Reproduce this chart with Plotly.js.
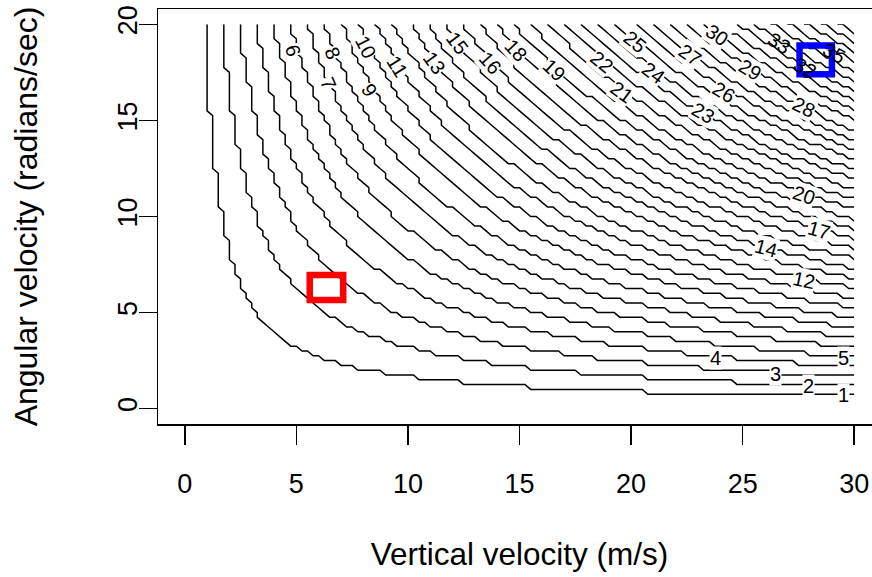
<!DOCTYPE html>
<html>
<head>
<meta charset="utf-8">
<script src="https://cdn.plot.ly/plotly-3.0.1.min.js"></script>
<style>
  html, body { margin: 0; padding: 0; background: #ffffff; overflow: hidden; }
  #chart { width: 900px; height: 577px; }
</style>
</head>
<body>
<div id="chart"></div>
<script>
// ---- data ----
// grid of the surface (vertical velocity v in m/s, angular velocity w in rad/s)
const velocityRange = [0, 30];
const angularRange = [0, 20];
const gridStep = 0.25;
// model drawn in the chart: number of half-turns of a tossed coin, 2*v*w/(g*pi)
const gravity = 9.8;
// contour levels drawn (1 ... 40)
const levelFirst = 1;
const levelLast = 40;
// tick labels
const xTickVals = [0, 5, 10, 15, 20, 25, 30];
const yTickVals = [0, 5, 10, 15, 20];
// highlighted regions
const redBoxV = [5.6, 7.1];
const redBoxW = [5.65, 6.95];
const blueBoxV = [27.55, 29.0];
const blueBoxW = [17.4, 18.9];
// contour labels that are printed (level values)
const contourLabels = [1, 2, 3, 4, 5, 6, 7, 8, 9, 10, 11, 12, 13, 14, 15, 16, 17, 18, 19, 20,
                       21, 22, 23, 24, 25, 26, 27, 28, 29, 30, 32, 33, 35];

// ---- label placement (where each label sits on its line, and its tilt) ----
const labelPlace = {
  1:  [29.5, 0.72, 0],   2:  [27.95, 1.2, 0],  3:  [26.45, 1.8, 0],   4:  [23.77, 2.66, 0],
  5:  [29.5, 2.66, 0],   6:  [4.85, 18.67, 73], 7:  [6.43, 16.94, 66], 8:  [6.62, 18.5, 67],
  9:  [8.28, 16.59, 60], 10: [8.12, 18.84, 63], 11: [9.55, 17.8, 58],  12: [27.73, 6.71, 12],
  13: [11.18, 17.98, 54], 14: [26.03, 8.36, 15], 15: [12.2, 19.02, 53], 16: [13.69, 17.98, 48],
  17: [28.4, 9.31, 16],  18: [14.83, 18.67, 47], 19: [16.56, 17.63, 43], 20: [27.73, 11.13, 19],
  21: [19.59, 16.5, 36], 22: [18.7, 18.06, 40], 23: [23.24, 15.38, 30], 24: [21.0, 17.46, 36],
  25: [20.19, 19.1, 39], 26: [24.15, 16.5, 31], 27: [22.65, 18.41, 35], 28: [27.73, 15.72, 26],
  29: [25.35, 17.63, 31], 30: [23.85, 19.45, 35], 32: [27.81, 17.72, 29], 33: [26.61, 19.02, 32],
  35: [29.08, 18.5, 29]
};

// ---- build the surface grid ----
const vGrid = [];
for (let i = 0; velocityRange[0] + i * gridStep <= velocityRange[1] + 1e-9; i++) vGrid.push(velocityRange[0] + i * gridStep);
const wGrid = [];
for (let j = 0; angularRange[0] + j * gridStep <= angularRange[1] + 1e-9; j++) wGrid.push(angularRange[0] + j * gridStep);
const zGrid = wGrid.map(w => vGrid.map(v => Math.floor(2 * v * w / (gravity * Math.PI))));

const FONT = 'Liberation Sans, Arial, Helvetica, sans-serif';

const trace = {
  type: 'contour',
  x: vGrid,
  y: wGrid,
  z: zGrid,
  autocontour: false,
  contours: {
    start: levelFirst - 1e-4,
    end: levelLast,
    size: 1,
    coloring: 'none',
    showlabels: false
  },
  line: { color: '#000000', width: 1.5, smoothing: 0 },
  showscale: false,
  hoverinfo: 'skip'
};

const insideBox = (v, w) =>
  v > blueBoxV[0] - 1.2 && v < blueBoxV[1] + 1.2 && w > blueBoxW[0] - 0.3 && w < blueBoxW[1] + 0.3;

const annotations = contourLabels.map(lv => {
  const p = labelPlace[lv];
  return {
    x: p[0], y: p[1], xref: 'x', yref: 'y',
    text: String(lv), showarrow: false,
    textangle: p[2],
    xanchor: 'center', yanchor: 'middle',
    font: { family: FONT, size: 20, color: '#000000' },
    bgcolor: insideBox(p[0], p[1]) ? 'rgba(255,255,255,0)' : '#ffffff',
    borderpad: 0
  };
});

const layout = {
  width: 900,
  height: 577,
  margin: { l: 158, r: 19.4, t: 9, b: 152.6 },
  paper_bgcolor: '#ffffff',
  plot_bgcolor: '#ffffff',
  font: { family: FONT, color: '#000000' },
  showlegend: false,
  xaxis: {
    range: [-1.2, 31.2],
    tickmode: 'array',
    tickvals: xTickVals,
    ticktext: xTickVals.map(String),
    showgrid: false,
    zeroline: false,
    showline: true,
    mirror: true,
    linecolor: '#000000',
    linewidth: 1.5,
    ticks: 'outside',
    ticklen: 19,
    tickwidth: 1.5,
    tickcolor: '#000000',
    ticklabelstandoff: 16,
    tickfont: { family: FONT, size: 27, color: '#000000' },
    title: { text: 'Vertical velocity (m/s)', font: { family: FONT, size: 31.5, color: '#000000' }, standoff: 45 }
  },
  yaxis: {
    range: [-0.8, 20.8],
    tickmode: 'array',
    tickvals: yTickVals,
    ticktext: yTickVals.map(String),
    tickangle: -90,
    showgrid: false,
    zeroline: false,
    showline: true,
    mirror: true,
    linecolor: '#000000',
    linewidth: 1.5,
    ticks: 'outside',
    ticklen: 18,
    tickwidth: 1.5,
    tickcolor: '#000000',
    ticklabelstandoff: -9,
    tickfont: { family: FONT, size: 27, color: '#000000' },
    title: { text: 'Angular velocity (radians/sec)', font: { family: FONT, size: 32, color: '#000000' }, standoff: 65 }
  },
  annotations: annotations,
  shapes: [
    { type: 'rect', xref: 'x', yref: 'y', x0: redBoxV[0], x1: redBoxV[1], y0: redBoxW[0], y1: redBoxW[1],
      line: { color: '#ff0000', width: 6.5 }, fillcolor: 'rgba(0,0,0,0)' },
    { type: 'rect', xref: 'x', yref: 'y', x0: blueBoxV[0], x1: blueBoxV[1], y0: blueBoxW[0], y1: blueBoxW[1],
      line: { color: '#0000ff', width: 6.5 }, fillcolor: 'rgba(0,0,0,0)' }
  ]
};

Plotly.newPlot('chart', [trace], layout, { staticPlot: true, displayModeBar: false });
</script>
</body>
</html>
